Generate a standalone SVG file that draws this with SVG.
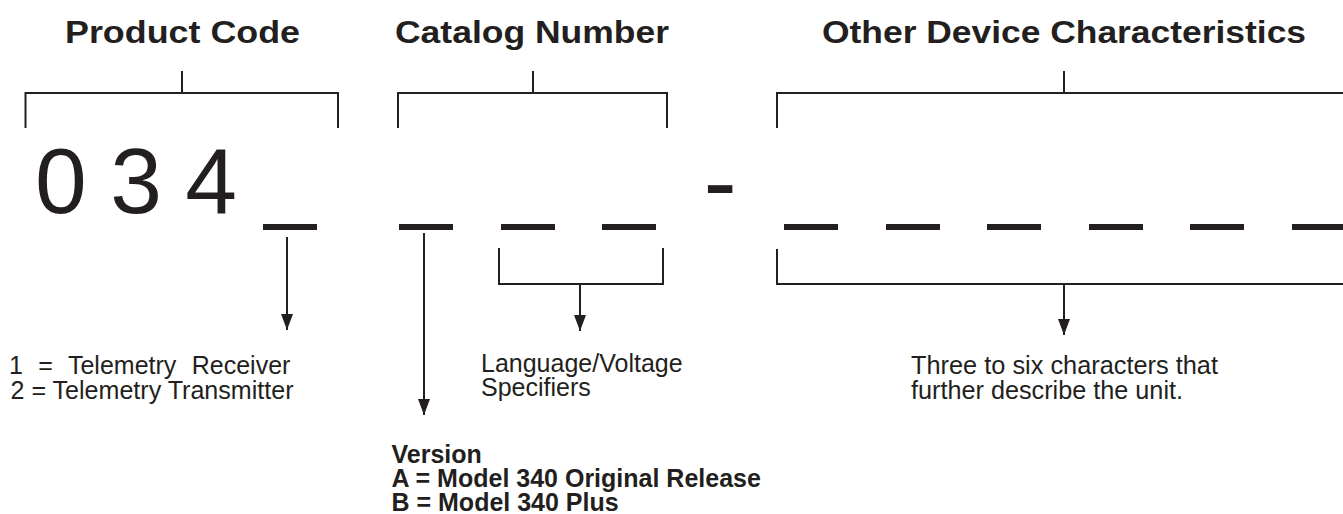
<svg xmlns="http://www.w3.org/2000/svg" width="1343" height="514" viewBox="0 0 1343 514">
  <style>
    .title { font-family: "Liberation Sans", Arial, sans-serif; font-weight: bold; font-size: 32px; fill: #231f20; }
    .label { font-family: "Liberation Sans", Arial, sans-serif; font-size: 25px; fill: #231f20; }
    .blabel { font-family: "Liberation Sans", Arial, sans-serif; font-weight: bold; font-size: 25px; fill: #231f20; }
    .code { font-family: "Liberation Sans", Arial, sans-serif; font-size: 93px; fill: #231f20; }
    .line { fill: none; stroke: #231f20; stroke-width: 2; stroke-linecap: butt; stroke-linejoin: miter; }
    .slot { fill: #231f20; }
  </style>
  <defs>
    <!-- filled triangular head; tip sits on the end of the line -->
    <marker id="arrowhead" viewBox="0 0 16 12" refX="16" refY="6" markerWidth="16" markerHeight="12" markerUnits="userSpaceOnUse" orient="auto">
      <path d="M0,0 L16,6 L0,12 Z" fill="#231f20"/>
    </marker>
  </defs>

  <rect width="1343" height="514" fill="#ffffff"/>

  <!-- Section headings -->
  <g id="heading-product-code">
    <text class="title" x="65" y="43" textLength="235" lengthAdjust="spacingAndGlyphs">Product Code</text>
  </g>
  <g id="heading-catalog-number">
    <text class="title" x="395" y="43" textLength="274" lengthAdjust="spacingAndGlyphs">Catalog Number</text>
  </g>
  <g id="heading-other">
    <text class="title" x="822" y="43" textLength="484" lengthAdjust="spacingAndGlyphs">Other Device Characteristics</text>
  </g>

  <!-- Fixed product code digits and separator -->
  <g id="code-digits">
    <text class="code" x="35" y="213" textLength="202" lengthAdjust="spacing">0 3 4</text>
  </g>
  <g id="separator">
    <text class="code" x="703.6" y="216" style="font-size:100px">-</text>
  </g>

  <!-- Character slots -->
  <g id="slot-product">
    <rect class="slot" x="263" y="224" width="54" height="6"/>
  </g>
  <g id="slot-version">
    <rect class="slot" x="399" y="224" width="54" height="6"/>
  </g>
  <g id="slots-language">
    <rect class="slot" x="501" y="224" width="54" height="6"/>
    <rect class="slot" x="602" y="224" width="54" height="6"/>
  </g>
  <g id="slots-other">
    <rect class="slot" x="784" y="224" width="54" height="6"/>
    <rect class="slot" x="886" y="224" width="54" height="6"/>
    <rect class="slot" x="987" y="224" width="54" height="6"/>
    <rect class="slot" x="1089" y="224" width="54" height="6"/>
    <rect class="slot" x="1190" y="224" width="54" height="6"/>
    <rect class="slot" x="1292" y="224" width="54" height="6"/>
  </g>

  <!-- Descriptions -->
  <g id="desc-product">
    <text class="label" x="9" y="374" style="word-spacing:8.5px">1 = Telemetry Receiver</text>
    <text class="label" x="10.5" y="399" textLength="283" lengthAdjust="spacingAndGlyphs">2 = Telemetry Transmitter</text>
  </g>
  <g id="desc-language">
    <text class="label" x="481" y="372">Language/Voltage</text>
    <text class="label" x="481" y="396">Specifiers</text>
  </g>
  <g id="desc-other">
    <text class="label" x="911" y="374" textLength="307" lengthAdjust="spacingAndGlyphs">Three to six characters that</text>
    <text class="label" x="911" y="398.5" textLength="272" lengthAdjust="spacingAndGlyphs">further describe the unit.</text>
  </g>
  <g id="desc-version">
    <text class="blabel" x="391.5" y="462.5">Version</text>
    <text class="blabel" x="391.5" y="487">A = Model 340 Original Release</text>
    <text class="blabel" x="391.5" y="511">B = Model 340 Plus</text>
  </g>

  <!-- Brackets and arrows -->
  <g id="connectors">
    <!-- upper brackets -->
    <path class="line" d="M25.5,128 V93 H338 V128 M182,71 V93"/>
    <path class="line" d="M398,128 V93 H667 V128 M533,71 V93"/>
    <path class="line" d="M777,128 V93 H1346 M1064,71 V93"/>
    <!-- lower brackets -->
    <path class="line" d="M499,248 V284 H663 V248"/>
    <path class="line" d="M777,249 V284 H1346"/>
    <!-- arrows -->
    <path class="line" d="M287,237 V330" marker-end="url(#arrowhead)"/>
    <path class="line" d="M424,233 V415" marker-end="url(#arrowhead)"/>
    <path class="line" d="M580,284 V331" marker-end="url(#arrowhead)"/>
    <path class="line" d="M1064,284 V335" marker-end="url(#arrowhead)"/>
  </g>
</svg>
